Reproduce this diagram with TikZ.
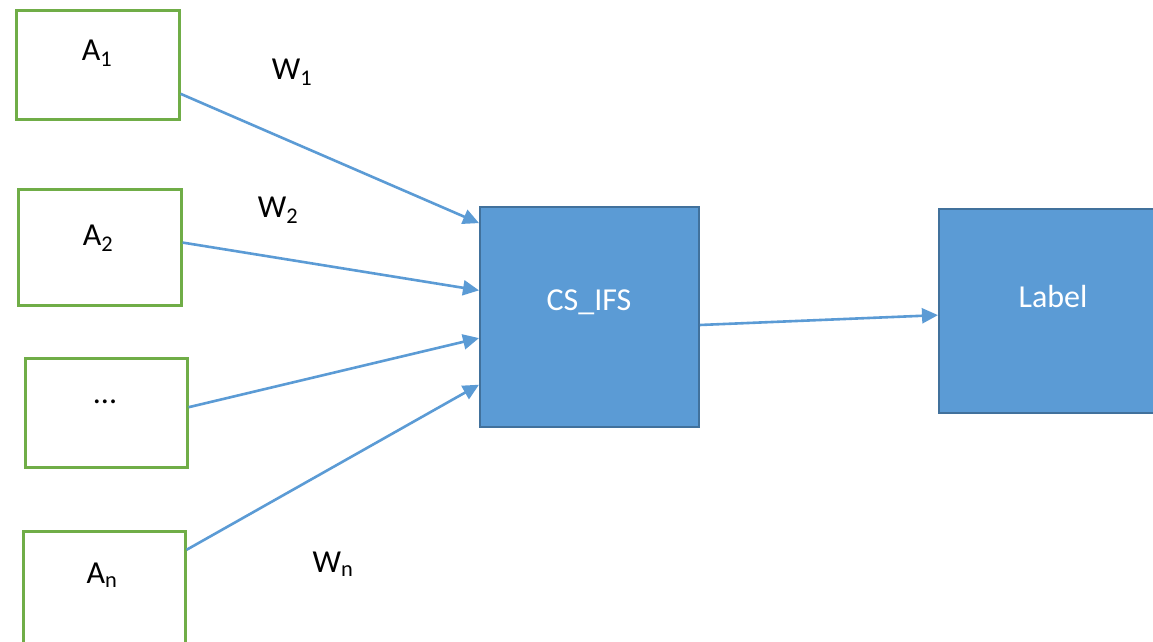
\documentclass[tikz,border=0pt]{standalone}
\usepackage{fontspec}
\setmainfont{Carlito}
\usetikzlibrary{arrows.meta,calc}
\definecolor{inbox}{HTML}{70AD47}
\definecolor{procfill}{HTML}{5B9BD5}
\definecolor{procedge}{HTML}{41719C}
\definecolor{wire}{HTML}{5B9BD5}
\begin{document}
\begin{tikzpicture}[x=1pt,y=-1pt,
  inputbox/.style={draw=inbox,line width=2.6pt,fill=white,inner sep=0pt,anchor=north west},
  procbox/.style={draw=procedge,fill=procfill,line width=2pt,inner sep=0pt,anchor=north west},
  txt/.style={font=\fontsize{32}{38}\selectfont,text=black,inner sep=0pt},
  wtxt/.style={txt,text=white},
  link/.style={draw=wire,line width=2.6pt,-{Triangle[length=16pt,width=15pt]}}]
\useasboundingbox (0,0) rectangle (1153,642);
\clip (0,0) rectangle (1153,642);
\fill[white] (0,0) rectangle (1153,642);

% input boxes
\node[inputbox,minimum width=163pt,minimum height=109pt] (a1) at (15,9) {};
\node[inputbox,minimum width=163pt,minimum height=116pt] (a2) at (17,188) {};
\node[inputbox,minimum width=162pt,minimum height=109pt] (ad) at (24,357) {};
\node[inputbox,minimum width=162pt,minimum height=125pt] (an) at (22,530) {};

% processing blocks
\node[procbox,minimum width=219pt,minimum height=220pt] (cs) at (479,206) {};
\node[procbox,minimum width=230pt,minimum height=204pt] (lab) at (938,208) {};

% texts
\node[txt] (ta1) at (97,53) {A\textsubscript{1}};
\node[txt] (ta2) at (98,238) {A\textsubscript{2}};
\node[txt] (tad) at (105,402) {...};
\node[txt] (tan) at (102,575) {A\textsubscript{n}};
\node[txt] (tw1) at (292,72) {W\textsubscript{1}};
\node[txt] (tw2) at (278,210) {W\textsubscript{2}};
\node[txt] (twn) at (333,564) {W\textsubscript{n}};
\node[wtxt] (tcs) at (589,302) {CS\_IFS};
\node[wtxt] (tlab) at (1053,297) {Label};

% connectors
\draw[link] ($(a1.north east)!0.76!(a1.south east)$) -- ($(cs.north west)!0.077!(cs.south west)$);
\draw[link] ($(a2.north east)!0.46!(a2.south east)$) -- ($(cs.north west)!0.38!(cs.south west)$);
\draw[link] ($(ad.north east)!0.45!(ad.south east)$) -- ($(cs.north west)!0.595!(cs.south west)$);
\draw[link] ($(an.north east)!0.155!(an.south east)$) -- ($(cs.north west)!0.805!(cs.south west)$);
\draw[link] ($(cs.north east)!0.536!(cs.south east)$) -- ($(lab.north west)!0.52!(lab.south west)$);
\end{tikzpicture}
\end{document}
